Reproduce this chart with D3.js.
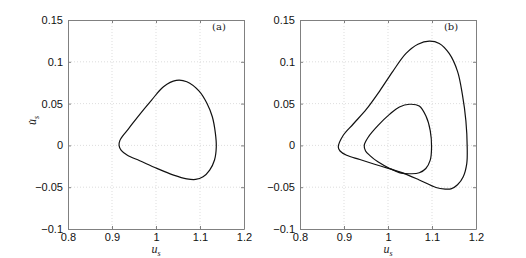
<!DOCTYPE html>
<html>
<head>
<meta charset="utf-8">
<script src="https://cdn.jsdelivr.net/npm/d3@7"></script>
<style>
  body { margin: 0; background: #fff; }
  svg { display: block; }
</style>
</head>
<body>
<svg id="fig" width="526" height="258"></svg>
<script>
// axis settings
var xDomain = [0.8, 1.2];
var yDomain = [-0.1, 0.15];
var xTicks = [0.8, 0.9, 1, 1.1, 1.2];
var yTicks = [-0.1, -0.05, 0, 0.05, 0.1, 0.15];
var xTickLabels = ["0.8", "0.9", "1", "1.1", "1.2"];
var yTickLabels = ["\u22120.1", "\u22120.05", "0", "0.05", "0.1", "0.15"];
var panelTags = ["(a)", "(b)"];

// limit cycle (a), points as [u_s, du_s]
var cycleA = [
  [0.916, 0.000], [0.918, 0.0060], [0.925, 0.0118], [0.937, 0.0195], [0.959, 0.0345],
  [0.990, 0.0542], [1.017, 0.0702], [1.046, 0.0778], [1.070, 0.0762], [1.098, 0.0650],
  [1.116, 0.0502], [1.128, 0.0343], [1.135, 0.0144], [1.137, -0.0016], [1.133, -0.0175],
  [1.122, -0.0295], [1.107, -0.0375], [1.090, -0.0407], [1.070, -0.0400], [1.040, -0.0355],
  [1.002, -0.0275], [0.963, -0.0183], [0.935, -0.0118], [0.921, -0.0060]
];

// period-2 cycle (b): outer and inner loops
var cycleBOuter = [
  [0.887, -0.002], [0.898, 0.0118], [0.921, 0.0256], [0.951, 0.0433], [0.981, 0.065],
  [1.011, 0.0886], [1.041, 0.110], [1.068, 0.121], [1.094, 0.1248], [1.1165, 0.122],
  [1.139, 0.110], [1.158, 0.0886], [1.169, 0.061], [1.177, 0.0295], [1.180, -0.002],
  [1.179, -0.0217], [1.171, -0.0374], [1.158, -0.047], [1.143, -0.052], [1.130, -0.0522],
  [1.109, -0.0504], [1.071, -0.0413], [1.030, -0.0323], [0.981, -0.0244], [0.936, -0.0169],
  [0.906, -0.0118], [0.891, -0.0067]
];
var cycleBInner = [
  [0.946, 0.000], [0.955, 0.0098], [0.977, 0.0236], [1.004, 0.0374], [1.026, 0.046],
  [1.049, 0.0492], [1.071, 0.0472], [1.086, 0.0354], [1.096, 0.0177], [1.099, -0.002],
  [1.096, -0.0177], [1.086, -0.0276], [1.071, -0.0327], [1.053, -0.0339], [1.030, -0.0331],
  [1.004, -0.0276], [0.977, -0.0197], [0.959, -0.0122], [0.949, -0.0067]
];

var panels = [
  { left: 68, tag: panelTags[0], loops: [cycleA], ylabel: true },
  { left: 300, tag: panelTags[1], loops: [cycleBOuter, cycleBInner], ylabel: false }
];

var plotTop = 20, plotW = 176, plotH = 209;
var svg = d3.select("#fig");
var axisColor = "#808080";

panels.forEach(function (p) {
  var x = d3.scaleLinear().domain(xDomain).range([0, plotW]);
  var y = d3.scaleLinear().domain(yDomain).range([plotH, 0]);
  var g = svg.append("g").attr("transform", "translate(" + p.left + "," + plotTop + ")");

  // dotted grid
  g.selectAll(".vgrid").data(xTicks.slice(1, -1)).enter().append("line")
    .attr("x1", function (d) { return x(d); }).attr("x2", function (d) { return x(d); })
    .attr("y1", 0).attr("y2", plotH)
    .style("stroke", "#d4d4d4").style("stroke-width", 0.8).style("stroke-dasharray", "1,2");
  g.selectAll(".hgrid").data(yTicks.slice(1, -1)).enter().append("line")
    .attr("y1", function (d) { return y(d); }).attr("y2", function (d) { return y(d); })
    .attr("x1", 0).attr("x2", plotW)
    .style("stroke", "#d4d4d4").style("stroke-width", 0.8).style("stroke-dasharray", "1,2");

  // axes, ticks pointing in (matlab style)
  var xb = d3.axisBottom(x).tickValues(xTicks).tickSizeInner(-3).tickSizeOuter(0)
    .tickPadding(4).tickFormat(function (d, i) { return xTickLabels[i]; });
  var xt = d3.axisTop(x).tickValues(xTicks).tickSizeInner(-3).tickSizeOuter(0).tickFormat("");
  var yl = d3.axisLeft(y).tickValues(yTicks).tickSizeInner(-3).tickSizeOuter(0)
    .tickPadding(5).tickFormat(function (d, i) { return yTickLabels[i]; });
  var yr = d3.axisRight(y).tickValues(yTicks).tickSizeInner(-3).tickSizeOuter(0).tickFormat("");

  g.append("g").attr("transform", "translate(0," + plotH + ")").call(xb);
  g.append("g").call(xt);
  g.append("g").call(yl);
  g.append("g").attr("transform", "translate(" + plotW + ",0)").call(yr);

  g.selectAll(".domain").style("stroke", axisColor);
  g.selectAll(".tick line").style("stroke", axisColor);
  g.selectAll(".tick text")
    .style("font-family", "'Liberation Sans', Arial, sans-serif")
    .style("font-size", "11px").style("fill", "#111");

  // the closed orbits
  var line = d3.line()
    .x(function (d) { return x(d[0]); })
    .y(function (d) { return y(d[1]); })
    .curve(d3.curveCatmullRomClosed.alpha(0.5));
  g.selectAll(".orbit").data(p.loops).enter().append("path")
    .attr("d", line)
    .style("fill", "none").style("stroke", "#111").style("stroke-width", 1.2);

  // panel tag
  g.append("text")
    .attr("x", plotW - 25).attr("y", 10)
    .attr("text-anchor", "middle")
    .style("font-family", "'DejaVu Serif', 'Liberation Serif', serif")
    .style("font-size", "10px").style("fill", "#222")
    .text(p.tag);

  // x label u_s
  var xlab = g.append("text")
    .attr("x", plotW / 2).attr("y", plotH + 24)
    .attr("text-anchor", "middle")
    .style("font-family", "'Liberation Serif', 'DejaVu Serif', serif")
    .style("font-style", "italic").style("font-size", "12px").style("fill", "#222");
  xlab.append("tspan").text("u");
  xlab.append("tspan").attr("dy", 3).style("font-size", "8px").text("s");

  if (p.ylabel) {
    var ylab = g.append("text")
      .attr("transform", "translate(-32," + (plotH / 2 - 4) + ") rotate(-90)")
      .attr("text-anchor", "middle")
      .style("font-family", "'Liberation Serif', 'DejaVu Serif', serif")
      .style("font-style", "italic").style("font-size", "12px").style("fill", "#222");
    ylab.append("tspan").text("u\u0307");
    ylab.append("tspan").attr("dy", 3).style("font-size", "8px").text("s");
  }
});
</script>
</body>
</html>
